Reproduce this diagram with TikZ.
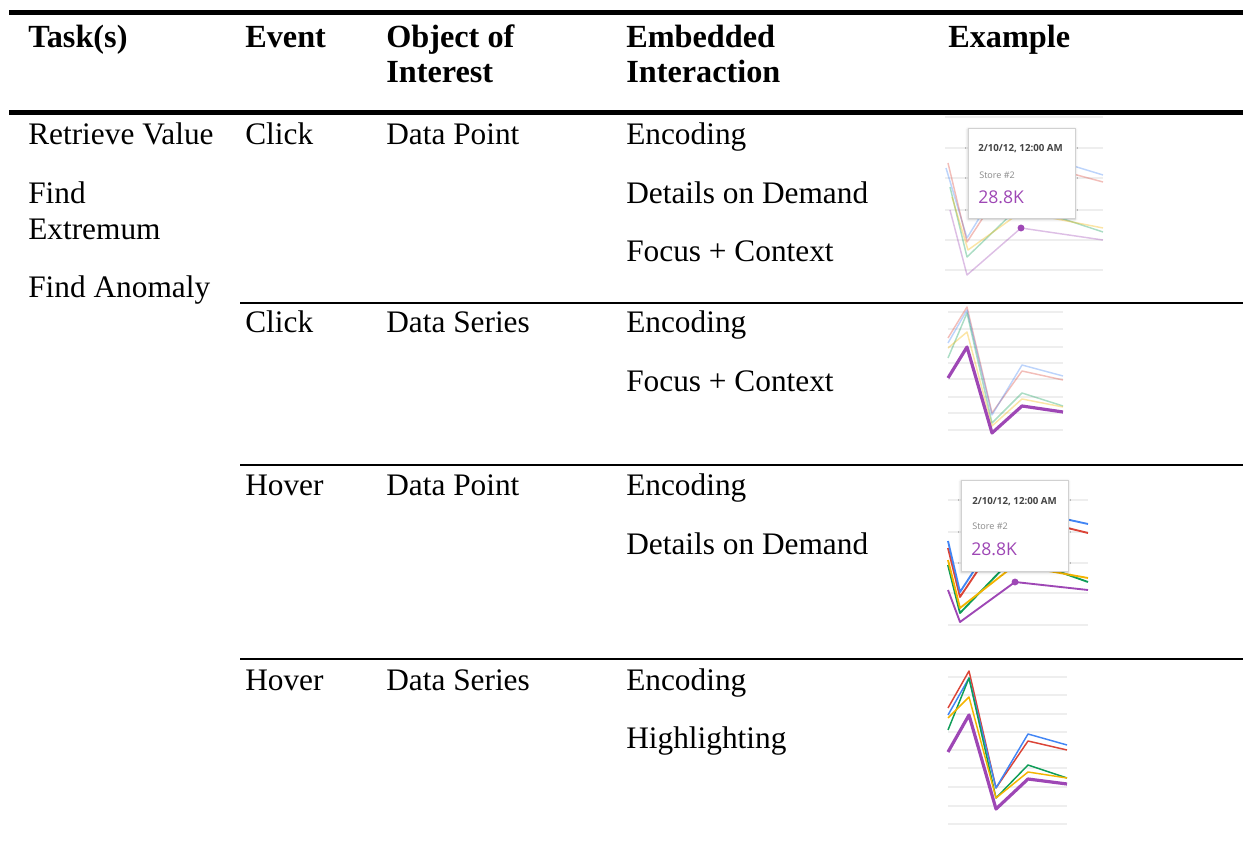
\documentclass[tikz,border=0pt]{standalone}
\usepackage{fontspec}
\setmainfont{Liberation Serif}
\newfontfamily\chartfont{Open Sans}
\usetikzlibrary{shadows.blur}

\definecolor{gblue}{HTML}{4285F4}
\definecolor{gred}{HTML}{DB4437}
\definecolor{gyellow}{HTML}{F4B400}
\definecolor{ggreen}{HTML}{0F9D58}
\definecolor{gpurple}{HTML}{9E47B5}
\definecolor{gridgray}{HTML}{EEEEEE}
\definecolor{tipdark}{HTML}{444444}
\definecolor{tipgray}{HTML}{8A8A8A}

\tikzset{
  cell/.style={anchor=base west, inner sep=0pt, font=\fontsize{23.5}{27}\selectfont},
  headcell/.style={cell, font=\fontsize{24.2}{28}\selectfont\bfseries},
  thickrule/.style={line width=3.75pt},
  rowrule/.style={line width=1.5pt},
  grid line/.style={gridgray, line width=0.9pt},
  series/.style={line width=1.1pt, line join=round},
  faded/.style={series, opacity=0.35},
  hover series/.style={line width=1.4pt, line join=round},
  bold series/.style={line width=2.4pt, line join=round, gpurple},
  tooltip/.style={draw=black!18, fill=white, line width=0.6pt,
    blur shadow={shadow xshift=0pt, shadow yshift=-1pt, shadow blur radius=2pt, shadow opacity=25}},
  tipdate/.style={anchor=base west, inner sep=0pt, text=tipdark, font=\chartfont\fontsize{7.3}{8}\selectfont\bfseries},
  tipstore/.style={anchor=base west, inner sep=0pt, text=tipgray, font=\chartfont\fontsize{6.8}{8}\selectfont},
  tipvalue/.style={anchor=base west, inner sep=0pt, text=gpurple, font=\chartfont\fontsize{13.2}{15}\selectfont},
}

\begin{document}
\begin{tikzpicture}[x=0.75pt, y=-0.75pt]
\useasboundingbox (0,0) rectangle (1243,841);

% ---------- rules ----------
\draw[thickrule] (9,12.5) -- (1243,12.5);
\draw[thickrule] (9,112.5) -- (1243,112.5);
\draw[rowrule] (240,303) -- (1243,303);
\draw[rowrule] (240,465) -- (1243,465);
\draw[rowrule] (240,659) -- (1243,659);

% ---------- header ----------
\node[headcell] (hTask) at (28,48) {Task(s)};
\node[headcell] (hEvent) at (245,48) {Event};
\node[headcell] (hObjA) at (386,48) {Object of};
\node[headcell] (hObjB) at (386,83) {Interest};
\node[headcell] (hEmbA) at (626,48) {Embedded};
\node[headcell] (hEmbB) at (626,83) {Interaction};
\node[headcell] (hEx) at (948,48) {Example};

% ---------- tasks ----------
\node[cell] (task1) at (28,145) {Retrieve Value};
\node[cell] (task2a) at (28,204) {Find};
\node[cell] (task2b) at (28,240) {Extremum};
\node[cell] (task3) at (28,298) {Find Anomaly};

% ---------- row 1 ----------
\node[cell] (ev1) at (245,145) {Click};
\node[cell] (ob1) at (386,145) {Data Point};
\node[cell] (em1a) at (626,145) {Encoding};
\node[cell] (em1b) at (626,204) {Details on Demand};
\node[cell] (em1c) at (626,262) {Focus + Context};

% ---------- row 2 ----------
\node[cell] (ev2) at (245,333) {Click};
\node[cell] (ob2) at (386,333) {Data Series};
\node[cell] (em2a) at (626,333) {Encoding};
\node[cell] (em2b) at (626,392) {Focus + Context};

% ---------- row 3 ----------
\node[cell] (ev3) at (245,496) {Hover};
\node[cell] (ob3) at (386,496) {Data Point};
\node[cell] (em3a) at (626,496) {Encoding};
\node[cell] (em3b) at (626,554) {Details on Demand};

% ---------- row 4 ----------
\node[cell] (ev4) at (245,690) {Hover};
\node[cell] (ob4) at (386,690) {Data Series};
\node[cell] (em4a) at (626,690) {Encoding};
\node[cell] (em4b) at (626,748) {Highlighting};

% ---------- example 1: clicked point, faded series, tooltip ----------
\foreach \gy in {117,148,178,210,240,270}
  \draw[grid line] (945,\gy) -- (1103,\gy);
\draw[faded, gblue]   (946,168) -- (967,238) -- (1021,150) -- (1103,175);
\draw[faded, gred]    (948,163) -- (967,242) -- (1021,160) -- (1103,182);
\draw[faded, ggreen]  (950,187) -- (967,257) -- (1021,205) -- (1103,232);
\draw[faded, gyellow] (952,197) -- (968,250) -- (1021,212) -- (1103,228);
\draw[faded, gpurple] (950,210) -- (967,275) -- (1021,228) -- (1103,240);
\fill[gpurple] (1021,228) circle (2.6pt);
\node[tooltip, minimum width=80.25pt, minimum height=67.5pt, inner sep=0pt] (tip1) at (1021.5,173) {};
\node[tipdate] (tip1date) at (978,152) {2/10/12, 12:00 AM};
\node[tipstore] (tip1store) at (979,179) {Store \#2};
\node[tipvalue] (tip1value) at (978,204) {28.8K};

% ---------- example 2: clicked series emphasised ----------
\foreach \gy in {312,329,347,363,379,397,413,430}
  \draw[grid line] (948,\gy) -- (1063,\gy);
\draw[faded, gred]    (948,338) -- (967,307) -- (992,413) -- (1022,371) -- (1063,380);
\draw[faded, gblue]   (948,343) -- (967,310) -- (992,415) -- (1022,365) -- (1063,376);
\draw[faded, ggreen]  (948,358) -- (967,313) -- (992,423) -- (1022,393) -- (1063,406);
\draw[faded, gyellow] (948,348) -- (967,332) -- (992,426) -- (1022,399) -- (1063,407);
\draw[bold series]    (948,378) -- (967,347) -- (992,433) -- (1022,406) -- (1063,412);

% ---------- example 3: hovered point with tooltip ----------
\foreach \gy in {500,532,563,593,625}
  \draw[grid line] (948,\gy) -- (1088,\gy);
\draw[hover series, gred]    (948,548) -- (960,597) -- (1015,515) -- (1088,533);
\draw[hover series, gblue]   (948,541) -- (960,592) -- (1015,508) -- (1088,524);
\draw[hover series, ggreen]  (948,565) -- (960,613) -- (1015,556) -- (1088,582);
\draw[hover series, gyellow] (948,560) -- (960,608) -- (1015,565) -- (1088,578);
\draw[hover series, gpurple] (948,590) -- (960,622) -- (1015,582) -- (1088,590);
\fill[gpurple] (1015,582) circle (2.6pt);
\node[tooltip, minimum width=80.25pt, minimum height=68.25pt, inner sep=0pt] (tip3) at (1014.5,525.5) {};
\node[tipdate] (tip3date) at (972,504) {2/10/12, 12:00 AM};
\node[tipstore] (tip3store) at (972,530) {Store \#2};
\node[tipvalue] (tip3value) at (971,556) {28.8K};

% ---------- example 4: hovered series highlighted ----------
\foreach \gy in {677,695,714,732,750,768,787,806,824}
  \draw[grid line] (948,\gy) -- (1067,\gy);
\draw[series, gred]    (948,708) -- (969,671) -- (996,788) -- (1028,741) -- (1067,750);
\draw[series, gblue]   (948,715) -- (969,678) -- (996,788) -- (1028,734) -- (1067,745);
\draw[series, ggreen]  (948,730) -- (969,678) -- (996,798) -- (1028,765) -- (1067,778);
\draw[series, gyellow] (948,718) -- (969,697) -- (996,798) -- (1028,772) -- (1067,778);
\draw[bold series]     (948,752) -- (969,715) -- (996,809) -- (1028,779) -- (1067,784);
\end{tikzpicture}
\end{document}
